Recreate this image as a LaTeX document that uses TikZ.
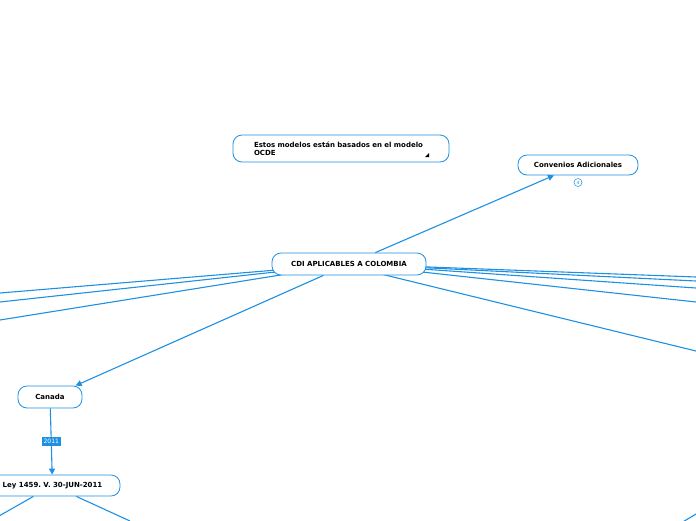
\documentclass[tikz,border=0pt]{standalone}
\usepackage{fontspec}
\setmainfont{DejaVu Sans}
\usetikzlibrary{arrows.meta}
\definecolor{mapblue}{RGB}{30,144,226}
\frenchspacing
\tikzset{
  topic/.style={draw=mapblue, line width=0.8pt, rounded corners=9pt, fill=white,
    font=\fontsize{7}{8.5}\selectfont\bfseries, inner sep=0pt},
  link/.style={mapblue, line width=1.1pt},
  linkarrow/.style={link, -{Triangle[length=6pt,width=6pt]}},
  yearbox/.style={fill=mapblue, text=white, font=\fontsize{6}{7}\selectfont, inner sep=2pt},
  badge/.style={circle, draw=mapblue, line width=0.5pt, text=mapblue, fill=white,
    minimum size=8pt, inner sep=0pt, font=\fontsize{4.5}{5}\selectfont},
}

\begin{document}
\begin{tikzpicture}[x=1pt,y=-1pt]
\useasboundingbox (0,0) rectangle (696,520);
\clip (0,0) rectangle (696,520);

% free ends of links leaving the view
\coordinate (cdic) at (349,264);
\coordinate (cdis) at (340,264);
\coordinate (offW1) at (0,293);
\coordinate (offW2) at (0,302);
\coordinate (offW3) at (0,320);
\coordinate (offE1) at (696,277);
\coordinate (offE2) at (696,281);
\coordinate (offE3) at (696,288);
\coordinate (offE4) at (696,302);
\coordinate (offE5) at (696,351);
\coordinate (offS1) at (-8,520);
\coordinate (offS2) at (130,521);
\coordinate (offSE1) at (676,526);
\coordinate (offSE2) at (706,508);

% links
\foreach \e in {offW1,offW2,offW3,offE1,offE2,offE3,offE4}
  \draw[link] (\e) -- (cdic);
\draw[link] (offE5) -- (cdis);
\draw[link] (offSE1) -- (offSE2);

% topics
\node[topic, minimum width=154pt, minimum height=22pt] (cdi) at (cdic) {CDI APLICABLES A COLOMBIA};
\node[topic, minimum width=216pt, minimum height=27pt, text width=174pt, align=left] (ocde) at (341,148.5)
  {Estos modelos están basados en el modelo\\OCDE};
\fill (429,153) -- (429,157) -- (425,157) -- cycle;
\node[topic, minimum width=120pt, minimum height=20pt] (conv) at (578,165) {Convenios Adicionales};
\node[badge] (convcount) at (578,182.5) {4};
\node[topic, minimum width=64pt, minimum height=22pt] (canada) at (50,397) {Canada};
\node[topic, minimum width=135pt, minimum height=21pt] (ley) at (52.5,485.5) {Ley 1459. V. 30-JUN-2011};

\draw[linkarrow] (cdi) -- (conv);
\draw[linkarrow] (cdi) -- (canada);
\draw[linkarrow] (canada) -- node[yearbox] {2011} (ley);
\draw[link] (ley) -- (offS1);
\draw[link] (ley) -- (offS2);
\end{tikzpicture}
\end{document}
